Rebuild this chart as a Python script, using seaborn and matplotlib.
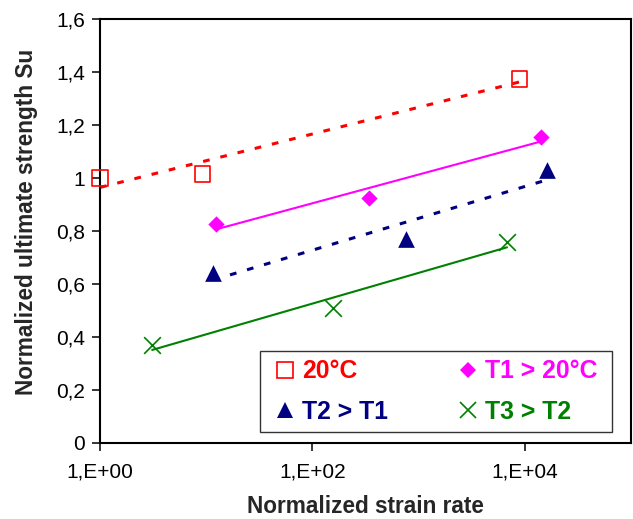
import numpy as np
import pandas as pd
import matplotlib
matplotlib.use("Agg")
import matplotlib.pyplot as plt
from matplotlib.lines import Line2D
import seaborn as sns

# Normalized strain rate / normalized ultimate strength per temperature
labels = ["20°C", "T1 > 20°C", "T2 > T1", "T3 > T2"]
rate_20c = [1.0, 9.3, 8.9e3]
su_20c = [1.00, 1.015, 1.374]
rate_t1 = [12.4, 340, 1.41e4]
su_t1 = [0.826, 0.925, 1.155]
rate_t2 = [11.6, 760, 1.63e4]
su_t2 = [0.642, 0.770, 1.030]
rate_t3 = [3.1, 156, 6.8e3]
su_t3 = [0.370, 0.510, 0.758]

x_ticks = [1, 1e2, 1e4]
x_ticklabels = ["1,E+00", "1,E+02", "1,E+04"]
y_ticks = [0, 0.2, 0.4, 0.6, 0.8, 1.0, 1.2, 1.4, 1.6]
y_ticklabels = ["0", "0,2", "0,4", "0,6", "0,8", "1", "1,2", "1,4", "1,6"]

sns.set_style("ticks")
plt.rcParams["font.family"] = ["Liberation Sans", "DejaVu Sans"]

colors = ["#FF0000", "#FF00FF", "#000080", "#008000"]
series = [(rate_20c, su_20c), (rate_t1, su_t1), (rate_t2, su_t2), (rate_t3, su_t3)]
markers = ["s", "D", "^", "x"]
msizes = [11, 8.3, 12, 12]
filled = [False, True, True, False]
line_styles = [(0, (2.2, 3.6)), "-", (0, (2.2, 3.6)), "-"]
line_widths = [2.2, 1.5, 2.2, 1.5]

fig = plt.figure(figsize=(6.33, 5.19), dpi=100)
ax = fig.add_axes([100 / 633, 1 - 443 / 519, 531 / 633, 424 / 519])
ax.set_xscale("log")

# logarithmic trendline for each temperature, over the range of its data
for (xs, ys), c, ls, lw in zip(series, colors, line_styles, line_widths):
    df = pd.DataFrame({"rate": xs, "su": ys})
    sns.regplot(data=df, x="rate", y="su", logx=True, ci=None, scatter=False,
                truncate=True, ax=ax,
                line_kws=dict(color=c, linestyle=ls, linewidth=lw,
                              dash_capstyle="butt", zorder=2))

for (xs, ys), c, m, ms, f in zip(series, colors, markers, msizes, filled):
    df = pd.DataFrame({"rate": xs, "su": ys})
    if f:
        sns.scatterplot(data=df, x="rate", y="su", marker=m, s=ms ** 2,
                        color=c, edgecolor=c, linewidth=0, ax=ax, zorder=3,
                        clip_on=False)
    else:
        kw = dict(facecolor="none", edgecolor=c) if m == "s" else dict(color=c)
        sns.scatterplot(data=df, x="rate", y="su", marker=m, s=ms ** 2,
                        linewidth=1.2, ax=ax, zorder=3, clip_on=False, **kw)

ax.set_xlim(1, 1e5)
ax.set_ylim(0, 1.6)
ax.set_xticks(x_ticks)
ax.set_xticklabels(x_ticklabels)
ax.xaxis.set_minor_locator(matplotlib.ticker.NullLocator())
ax.set_yticks(y_ticks)
ax.set_yticklabels(y_ticklabels)
ax.tick_params(axis="both", direction="out", length=5.8, width=1.1,
               labelsize=15, color="black", labelcolor="black")
ax.tick_params(axis="x", pad=8)
ax.tick_params(axis="y", pad=5)
for s in ax.spines.values():
    s.set_visible(True)
    s.set_linewidth(1.5)
    s.set_color("black")

ax.set_xlabel("Normalized strain rate", fontsize=16.3, fontweight="bold", labelpad=10)
ax.set_ylabel("Normalized ultimate strength Su", fontsize=16.3, fontweight="bold")
ax.yaxis.set_label_coords(-0.117, 0.521)

handles = []
for c, m, ms, f in zip(colors, markers, msizes, filled):
    if f:
        h = Line2D([], [], linestyle="none", marker=m, markersize=ms,
                   color=c, markeredgewidth=0)
    else:
        h = Line2D([], [], linestyle="none", marker=m, markersize=ms,
                   markerfacecolor="none", markeredgecolor=c, markeredgewidth=1.2)
    handles.append(h)

order = [0, 2, 1, 3]
leg_labels = [labels[0], labels[2], labels[1] + " ", labels[3] + " "]
leg = ax.legend([handles[i] for i in order], leg_labels,
                ncol=2, loc="lower right",
                bbox_to_anchor=((612 - 100) / 531, (443 - 432) / 424),
                borderaxespad=0, frameon=True, fancybox=False,
                prop=dict(size=17.8, weight="bold"), handlelength=1.38,
                handletextpad=0.0, columnspacing=2.52, labelspacing=0.68,
                borderpad=0.32)
leg.get_frame().set_edgecolor("black")
leg.get_frame().set_linewidth(1.0)
for txt, i in zip(leg.get_texts(), order):
    txt.set_color(colors[i])

fig.savefig("out.png", dpi=100)
